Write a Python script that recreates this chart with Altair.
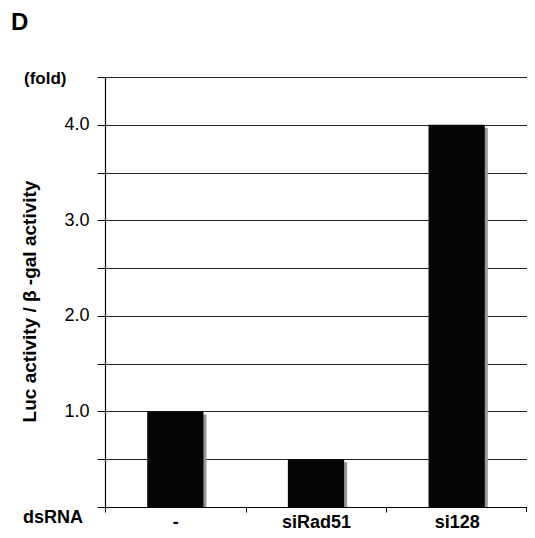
import altair as alt
import pandas as pd

categories = ["-", "siRad51", "si128"]
values = [1.0, 0.5, 4.0]
y_ticks = [0, 0.5, 1.0, 1.5, 2.0, 2.5, 3.0, 3.5, 4.0, 4.5]

df = pd.DataFrame({"dsRNA": categories, "fold": values})

FONT = "Liberation Sans"
W, H = 422, 430

x_enc = alt.X(
    "dsRNA:N",
    sort=categories,
    scale=alt.Scale(paddingInner=0, paddingOuter=0),
    axis=alt.Axis(
        title=None, labelAngle=0, labelFont=FONT, labelFontSize=18,
        labelFontWeight="bold", labelColor="black", labelPadding=1,
        tickBand="extent", tickSize=5, tickColor="black",
        domainColor="black", domainWidth=1.2, grid=False,
    ),
)
y_axis = alt.Axis(
    values=y_ticks,
    title="Luc activity / β -gal activity",
    titleFont=FONT, titleFontSize=19, titleFontWeight="bold",
    titleColor="black", titleX=-76, titleY=224, titleAngle=-90,
    titleAlign="center", titleBaseline="middle",
    labelExpr="datum.value >= 1 && datum.value % 1 == 0 ? format(datum.value, '.1f') : ''",
    labelFont=FONT, labelFontSize=18, labelColor="black", labelPadding=8,
    tickSize=8, tickColor="black", domainColor="black", domainWidth=1.2,
    grid=True, gridColor="#222222", gridWidth=1.2,
)
y_enc = alt.Y("fold:Q", scale=alt.Scale(domain=[0, 4.5], nice=False), axis=y_axis)

shadow = alt.Chart(df).mark_bar(
    color="#999999", xOffset=3, yOffset=3, y2Offset=0, width=alt.RelativeBandSize(0.4)
).encode(x=x_enc, y=y_enc, y2=alt.Y2(datum=0))

bars = alt.Chart(df).mark_bar(
    color="#050505", width=alt.RelativeBandSize(0.4)
).encode(x=x_enc, y=y_enc)

def label(text, x, y, size, baseline="middle"):
    return alt.Chart(pd.DataFrame({"t": [text]})).mark_text(
        font=FONT, fontSize=size, fontWeight="bold", align="left",
        baseline=baseline, color="black",
    ).encode(x=alt.value(x), y=alt.value(y), text="t:N")

end_tick = alt.Chart(pd.DataFrame({"a": [0]})).mark_rule(color="black").encode(
    x=alt.value(W - 0.5), y=alt.value(H), y2=alt.value(H + 5)
)

chart = alt.layer(
    shadow, bars,
    label("D", -94, -54, 24),
    label("(fold)", -81, 2, 17),
    label("dsRNA", -82, 441, 18),
    end_tick,
).properties(
    width=W, height=H,
    autosize=alt.AutoSizeParams(type="none"),
    padding={"left": 97, "top": 69, "right": 0, "bottom": 23},
).configure_view(stroke=None).configure(background="white")

chart.save("out.html", embed_options={"renderer": "svg", "actions": False})
